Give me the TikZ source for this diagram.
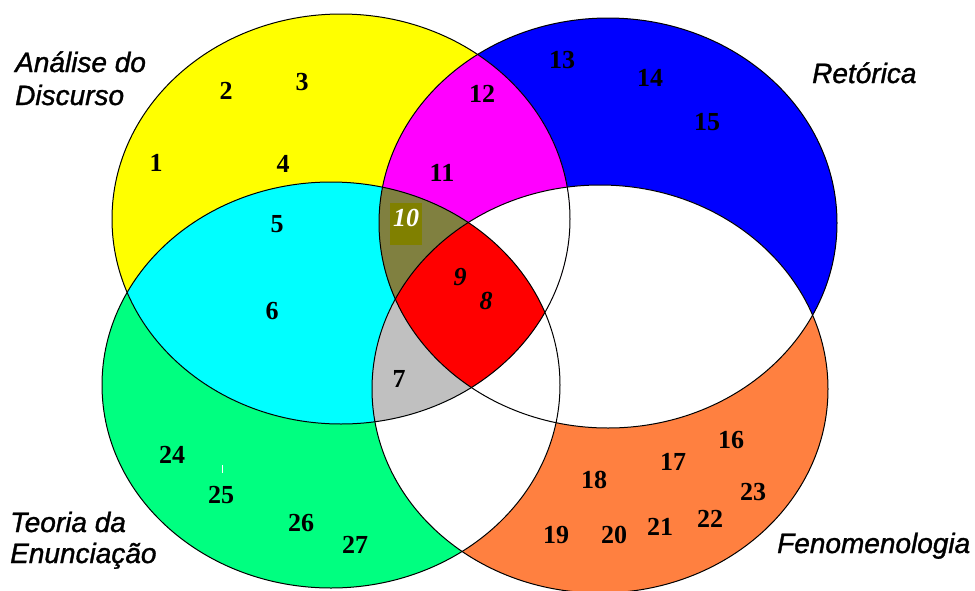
\documentclass[tikz,border=0pt]{standalone}
\usepackage{fontspec}
\newfontfamily\lblfont[FakeBold=1.2]{Liberation Sans}
\newfontfamily\numfont{Liberation Serif}
\definecolor{cyel}{HTML}{FFFF00}
\definecolor{cblu}{HTML}{0000FF}
\definecolor{cgrn}{HTML}{00FF80}
\definecolor{cora}{HTML}{FF8040}
\definecolor{cmag}{HTML}{FF00FF}
\definecolor{ccya}{HTML}{00FFFF}
\definecolor{coli}{HTML}{808040}
\definecolor{cbox}{HTML}{808000}
\definecolor{cred}{HTML}{FF0000}
\definecolor{cgry}{HTML}{C0C0C0}
\tikzset{
  num/.style={inner sep=0pt, font=\numfont\bfseries\fontsize{26}{26}\selectfont},
  lbl/.style={inner sep=0pt, anchor=base west, font=\lblfont\itshape\fontsize{28}{33}\selectfont},
  outline/.style={draw=black, line width=1pt}
}
\begin{document}
\begin{tikzpicture}[x=1pt,y=-1pt]
\useasboundingbox (0,0) rectangle (975,590);
\fill[white] (0,0) rectangle (975,590);
\def\eA{(341,219) ellipse [x radius=229pt, y radius=205pt]}
\def\eR{(608,223) ellipse [x radius=229pt, y radius=205pt]}
\def\eT{(331,385) ellipse [x radius=229pt, y radius=203pt]}
\def\eF{(600,389) ellipse [x radius=228pt, y radius=204pt]}
% single sets
\fill[cyel] \eA;
\fill[cblu] \eR;
\fill[cgrn] \eT;
\fill[cora] \eF;
% pairwise intersections white
\begin{scope}\clip \eA; \fill[white] \eR; \fill[white] \eT; \fill[white] \eF; \end{scope}
\begin{scope}\clip \eR; \fill[white] \eT; \fill[white] \eF; \end{scope}
\begin{scope}\clip \eT; \fill[white] \eF; \end{scope}
% A with R and A with T
\begin{scope}\clip \eA; \fill[cmag] \eR; \fill[ccya] \eT; \end{scope}
% triples
\begin{scope}\clip \eA; \clip \eR; \fill[coli] \eT; \fill[white] \eF; \end{scope}
\begin{scope}\clip \eA; \clip \eT; \fill[cgry] \eF; \end{scope}
% all four
\begin{scope}\clip \eA; \clip \eR; \clip \eT; \fill[cred] \eF; \end{scope}
% box behind 10 and small mark
\fill[cbox] (390,203) rectangle (422,245);
\fill[white] (221.5,465) rectangle (223,473);
% outlines
\draw[outline] \eA;
\draw[outline] \eR;
\draw[outline] \eT;
\draw[outline] \eF;
% numbers
\node[num] (n1) at (156,163) {1};
\node[num] (n2) at (226,91) {2};
\node[num] (n3) at (302,82) {3};
\node[num] (n4) at (283,164) {4};
\node[num] (n5) at (277,224) {5};
\node[num] (n6) at (272,311) {6};
\node[num] (n7) at (399,379) {7};
\node[num] (n8) at (486,301) {\itshape 8};
\node[num] (n9) at (460,277) {\itshape 9};
\node[num,text=white] (n10) at (406,218) {\itshape 10};
\node[num] (n11) at (442,173) {11};
\node[num] (n12) at (482,94) {12};
\node[num] (n13) at (562,60) {13};
\node[num] (n14) at (650,78) {14};
\node[num] (n15) at (707,122) {15};
\node[num] (n16) at (731,440) {16};
\node[num] (n17) at (673,462) {17};
\node[num] (n18) at (594,480) {18};
\node[num] (n19) at (556,535) {19};
\node[num] (n20) at (614,535) {20};
\node[num] (n21) at (660,527) {21};
\node[num] (n22) at (710,519) {22};
\node[num] (n23) at (753,492) {23};
\node[num] (n24) at (172,455) {24};
\node[num] (n25) at (221,495) {25};
\node[num] (n26) at (301,523) {26};
\node[num] (n27) at (355,545) {27};
% labels
\node[lbl] (la1) at (15,72) {Análise do};
\node[lbl] (la2) at (15,105) {Discurso};
\node[lbl] (lr) at (812,83) {Retórica};
\node[lbl] (lt1) at (10,532) {Teoria da};
\node[lbl] (lt2) at (10,563) {Enunciação};
\node[lbl] (lf) at (777,553) {Fenomenologia};
\end{tikzpicture}
\end{document}
